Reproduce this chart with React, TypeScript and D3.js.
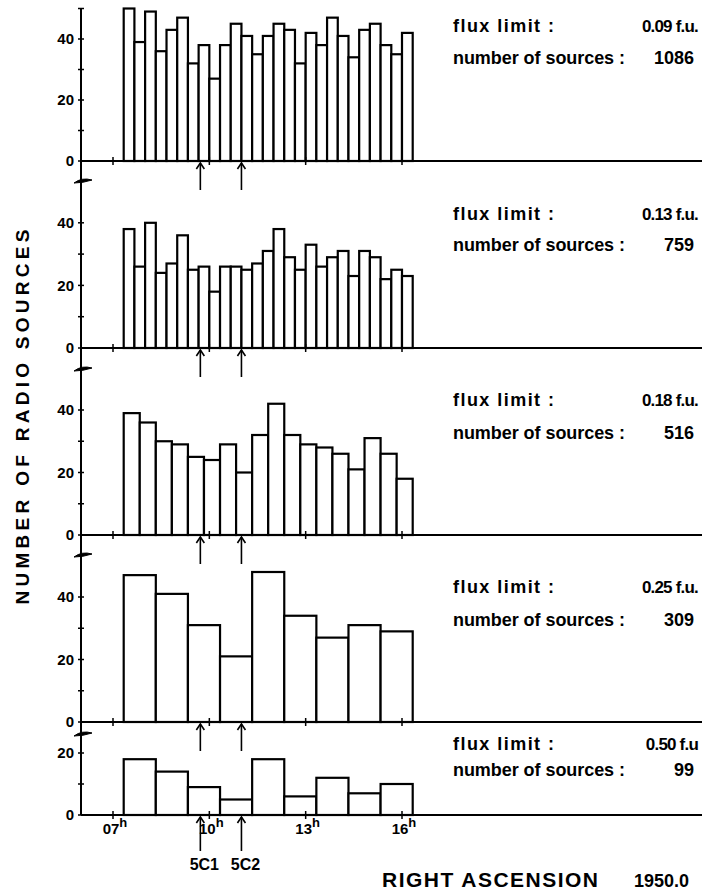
import React from 'react';
import * as d3 from 'd3';

// counts per RA bin, one array per flux limit (bins span 07h20m - 16h20m)
const counts009 = [50, 39, 49, 36, 43, 47, 32, 38, 27, 38, 45, 41, 35, 41, 45, 43, 32, 42, 38, 47, 41, 34, 43, 45, 38, 35, 42];
const counts013 = [38, 26, 40, 24, 27, 36, 25, 26, 18, 26, 26, 25, 27, 31, 38, 29, 25, 33, 26, 29, 31, 23, 31, 29, 22, 25, 23];
const counts018 = [39, 36, 30, 29, 25, 24, 29, 20, 32, 42, 32, 29, 28, 26, 21, 31, 26, 18];
const counts025 = [47, 41, 31, 21, 48, 34, 27, 31, 29];
const counts050 = [18, 14, 9, 5, 18, 6, 12, 7, 10];

const fluxLimits = ['0.09 f.u.', '0.13 f.u.', '0.18 f.u.', '0.25 f.u.', '0.50 f.u'];
const sourceTotals = ['1086', '759', '516', '309', '99'];
const hourTicks = [7, 10, 13, 16];
const hourLabels = ['07', '10', '13', '16'];
const sourceNames = ['5C1', '5C2'];
const sourceRA = [9.72, 11.0];
const raStart = 7 + 1 / 3;
const raEnd = 16 + 1 / 3;

const series = [counts009, counts013, counts018, counts025, counts050];

// layout of each strip
const zeroY = [161, 348, 535, 722, 815];
const pxPerUnit = [3.05, 3.13, 3.125, 3.125, 3.1];
const tickMax = [50, 40, 40, 40, 20];
const textY1 = [32, 220, 406, 593, 750];
const textY2 = [64, 251, 439, 626, 776];
const breaksY = [181, 369, 555, 734];

const FONT = '"Liberation Sans", Arial, sans-serif';

export default function App() {
  const x = d3.scaleLinear().domain([7, 16]).range([113, 402]);
  const axisX = 81;
  const rightEdge = 702;

  return (
    <svg width={704} height={895} style={{ position: 'absolute', left: 0, top: 0, background: '#fff' }}
      fontFamily={FONT}>
      {/* continuous y axis */}
      <line x1={axisX} x2={axisX} y1={zeroY[0] - pxPerUnit[0] * 50} y2={zeroY[4]}
        stroke="#000" strokeWidth={2} />
      {breaksY.map((b, i) => (
        <path key={'br' + i} d={`M${axisX - 7},${b + 2} Q${axisX + 1},${b - 4} ${axisX + 11},${b - 1} Q${axisX + 2},${b + 2} ${axisX - 7},${b + 2} Z`}
          fill="#000" stroke="#000" strokeWidth={1} />
      ))}

      {series.map((vals, p) => {
        const y = d3.scaleLinear().domain([0, 1]).range([zeroY[p], zeroY[p] - pxPerUnit[p]]);
        const binW = (raEnd - raStart) / vals.length;
        const ticks = d3.range(0, tickMax[p] + 1, 10);
        return (
          <g key={'p' + p}>
            {/* bars */}
            {vals.map((v, i) => {
              const x0 = x(raStart + i * binW);
              const x1 = x(raStart + (i + 1) * binW);
              return (
                <rect key={i} x={x0} y={y(v)} width={x1 - x0} height={y(0) - y(v)}
                  fill="#fff" stroke="#000" strokeWidth={2.2} />
              );
            })}
            {/* x axis */}
            <line x1={axisX} x2={rightEdge} y1={y(0)} y2={y(0)} stroke="#000" strokeWidth={2} />
            {hourTicks.map(h => (
              <line key={'xt' + h} x1={x(h)} x2={x(h)} y1={y(0) - 4} y2={y(0) + 4} stroke="#000" strokeWidth={1.5} />
            ))}
            {/* y ticks */}
            {ticks.map(t => (
              <g key={'yt' + t}>
                <line x1={axisX - 3} x2={axisX + 3} y1={y(t)} y2={y(t)} stroke="#000" strokeWidth={1.5} />
                {t % 20 === 0 && (
                  <text x={axisX - 7} y={y(t)} dy="0.36em" textAnchor="end" fontSize={15} fontWeight="bold">{t}</text>
                )}
              </g>
            ))}
            {/* source arrows */}
            {sourceRA.map((ra, k) => {
              const ax = x(ra);
              const top = y(0) + 2;
              const len = p === 4 ? 34 : 27;
              return (
                <g key={'ar' + k} stroke="#000" strokeWidth={1.6} fill="none">
                  <line x1={ax} x2={ax} y1={top} y2={top + len} />
                  <path d={`M${ax - 4},${top + 6} L${ax},${top} L${ax + 4},${top + 6}`} />
                </g>
              );
            })}
            {/* legend text */}
            <text x={453} y={textY1[p]} fontSize={18} fontWeight="bold" textLength={101} lengthAdjust="spacing">flux limit :</text>
            <text x={698} y={textY1[p]} fontSize={17} fontWeight="bold" textAnchor="end" letterSpacing={-0.8}>{fluxLimits[p]}</text>
            <text x={453} y={textY2[p]} fontSize={18} fontWeight="bold" textLength={172} lengthAdjust="spacing">number of sources :</text>
            <text x={694} y={textY2[p]} fontSize={18} fontWeight="bold" textAnchor="end">{sourceTotals[p]}</text>
          </g>
        );
      })}

      {/* hour labels under the last strip */}
      {hourTicks.map((h, i) => (
        <text key={'hl' + h} x={x(h) + 2} y={834} textAnchor="middle" fontSize={15} fontWeight="bold">
          {hourLabels[i]}
          <tspan dy={-7} fontSize={13}>h</tspan>
        </text>
      ))}
      {sourceNames.map((n, k) => (
        <text key={'sn' + n} x={x(sourceRA[k]) + 4} y={870} textAnchor="middle" fontSize={16} fontWeight="bold">{n}</text>
      ))}

      <text x={382} y={887} fontSize={21} fontWeight="bold" textLength={216} lengthAdjust="spacing">RIGHT ASCENSION</text>
      <text x={689} y={887} fontSize={18} fontWeight="bold" textAnchor="end">1950.0</text>

      <text transform="translate(29,417) rotate(-90)" textAnchor="middle" fontSize={19} fontWeight="bold"
        textLength={375} lengthAdjust="spacing">NUMBER OF RADIO SOURCES</text>
    </svg>
  );
}
